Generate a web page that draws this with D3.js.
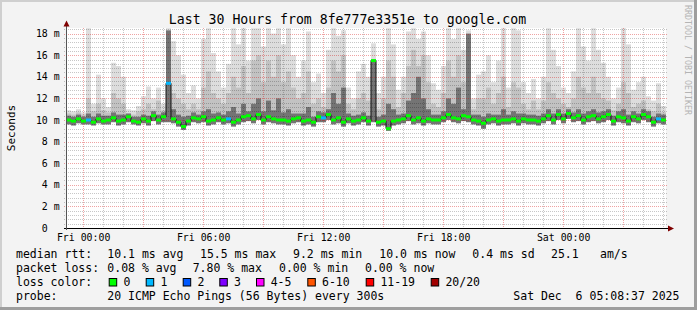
<!DOCTYPE html>
<html>
<head>
<meta charset="utf-8">
<script src="https://cdn.jsdelivr.net/npm/d3@7"></script>
<style>
  body { margin: 0; background: #f3f3f3; }
  svg { display: block; font-family: "DejaVu Sans Mono", monospace; }
  text { white-space: pre; }
</style>
</head>
<body>
<svg id="chart" width="697" height="310"></svg>
<script>
// one value per 15 minutes, starting Thu 23:08:37 (ms)
var hiMs = [
  10.9, 10.8, 11.0, 10.7, 18.5, 11.5, 14.2, 12.0, 11.2, 15.3,
  15.0, 14.0, 11.0, 10.9, 11.3, 12.2, 13.1, 12.0, 13.0, 11.5,
  18.5, 17.3, 16.0, 14.2, 12.5, 13.2, 12.0, 17.5, 18.5, 16.2,
  14.5, 13.0, 15.2, 18.5, 17.0, 18.5, 15.5, 18.5, 18.5, 16.8,
  18.5, 18.0, 18.5, 17.0, 18.5, 16.0, 14.0, 15.5, 18.2, 13.5,
  14.3, 12.5, 16.5, 18.5, 17.8, 18.3, 13.0, 12.0, 14.5, 15.2,
  14.0, 17.1, 12.5, 14.0, 18.5, 17.0, 12.8, 14.0, 18.2, 18.5,
  17.5, 18.2, 16.0, 13.4, 12.8, 15.0, 18.5, 17.5, 18.5, 16.5,
  18.3, 12.0, 14.2, 14.5, 16.0, 13.5, 15.5, 18.5, 13.0, 18.5,
  18.3, 13.5, 12.5, 13.8, 12.0, 14.0, 18.5, 16.5, 15.0, 13.0,
  12.5, 14.5, 18.5, 16.8, 15.5, 18.5, 16.5, 15.3, 14.0, 12.0,
  13.0, 18.5, 17.0, 12.8, 13.5, 14.0, 12.2, 11.8, 13.4, 11.3
];
var midMs = [
  10.6, 10.5, 10.7, 10.5, 12.0, 10.8, 11.5, 10.9, 10.7, 12.5,
  12.0, 11.5, 10.6, 10.5, 10.8, 11.0, 11.5, 11.0, 11.8, 10.9,
  13.5, 12.5, 12.0, 11.5, 11.0, 11.5, 11.0, 13.0, 14.5, 12.5,
  12.0, 11.5, 12.5, 14.0, 13.0, 15.0, 12.5, 15.5, 16.0, 13.5,
  15.5, 14.0, 16.0, 13.5, 14.5, 13.0, 12.0, 12.5, 14.5, 11.5,
  12.0, 11.2, 13.0, 15.5, 14.5, 16.0, 11.5, 11.0, 12.0, 12.5,
  11.8, 13.0, 11.0, 12.0, 15.5, 14.0, 11.2, 12.5, 15.0, 16.5,
  15.0, 16.0, 13.5, 11.5, 11.2, 12.5, 15.5, 14.0, 16.0, 13.5,
  15.0, 11.0, 12.0, 12.0, 13.0, 11.5, 12.5, 14.0, 11.2, 13.5,
  13.0, 11.5, 11.0, 11.8, 11.0, 11.8, 13.5, 12.5, 12.0, 11.5,
  11.2, 12.0, 14.0, 13.0, 12.5, 14.0, 12.5, 12.0, 11.8, 10.9,
  11.5, 13.5, 12.5, 11.2, 11.5, 11.8, 11.0, 10.8, 11.5, 10.7
];
var darkMs = [
  10.4, 10.3, 10.5, 10.3, 10.6, 10.3, 10.6, 10.4, 10.4, 10.7,
  10.5, 10.5, 10.6, 10.3, 10.3, 10.5, 10.4, 10.8, 10.5, 10.7,
  18.3, 11.0, 10.5, 10.3, 10.4, 10.7, 10.5, 10.8, 11.0, 10.6,
  10.7, 10.5, 10.8, 11.2, 10.6, 11.5, 10.8, 11.5, 12.0, 10.8,
  11.8, 10.9, 12.0, 10.7, 11.0, 10.6, 10.6, 10.6, 11.2, 10.3,
  10.8, 10.7, 11.0, 12.5, 11.5, 13.0, 10.6, 10.4, 10.5, 10.7,
  10.4, 15.5, 10.3, 10.5, 11.5, 11.0, 10.5, 10.6, 11.8, 12.5,
  14.0, 12.0, 11.0, 10.5, 10.5, 10.8, 12.0, 11.5, 13.0, 11.0,
  18.0, 10.5, 10.5, 10.3, 10.6, 10.5, 10.5, 11.0, 10.5, 10.8,
  10.6, 10.6, 10.5, 10.5, 10.4, 10.6, 11.0, 10.6, 11.0, 10.6,
  11.0, 10.7, 11.0, 10.6, 10.8, 11.0, 10.7, 10.8, 11.0, 10.4,
  10.8, 11.0, 10.5, 10.8, 10.6, 11.0, 10.8, 10.3, 10.6, 10.5
];
var loMs = [
  9.6, 9.5, 9.7, 9.6, 9.6, 9.5, 9.7, 9.6, 9.6, 9.8,
  9.5, 9.6, 9.8, 9.6, 9.5, 9.7, 9.5, 9.9, 9.6, 9.8,
  9.8, 9.7, 9.4, 9.1, 9.5, 9.8, 9.7, 9.8, 9.5, 9.6,
  9.8, 9.6, 9.7, 9.4, 9.6, 9.8, 9.9, 9.7, 10.0, 9.6,
  9.8, 9.7, 9.6, 9.6, 9.5, 9.7, 9.8, 9.5, 9.6, 9.4,
  9.8, 9.8, 10.0, 9.6, 9.7, 9.4, 9.7, 9.5, 9.6, 9.8,
  9.5, 9.8, 9.4, 9.5, 9.0, 9.5, 9.6, 9.7, 9.9, 9.6,
  9.7, 9.5, 9.7, 9.6, 9.6, 9.8, 10.0, 9.8, 9.7, 9.9,
  9.8, 9.6, 9.5, 9.2, 9.6, 9.7, 9.5, 9.6, 9.6, 9.7,
  9.5, 9.7, 9.6, 9.6, 9.5, 9.7, 9.9, 9.6, 10.0, 9.7,
  10.1, 9.8, 9.9, 9.6, 9.8, 9.9, 9.7, 9.8, 10.0, 9.5,
  9.8, 9.7, 9.5, 9.8, 9.7, 10.0, 9.8, 9.4, 9.7, 9.6
];
var medianMs = [
  10.0, 9.9, 10.1, 9.9, 10.0, 9.8, 10.1, 9.9, 10.0, 10.2,
  9.9, 10.0, 10.3, 9.9, 9.8, 10.1, 9.9, 10.4, 10.0, 10.3,
  13.4, 10.1, 9.8, 9.4, 9.9, 10.2, 10.1, 10.3, 9.9, 10.0,
  10.2, 10.0, 10.1, 9.8, 10.0, 10.3, 10.4, 10.1, 10.5, 10.0,
  10.3, 10.1, 10.0, 10.0, 9.9, 10.1, 10.2, 9.9, 10.0, 9.8,
  10.3, 10.2, 10.5, 10.0, 10.2, 9.8, 10.1, 9.9, 10.0, 10.2,
  9.9, 15.5, 9.8, 9.9, 9.2, 9.9, 10.0, 10.1, 10.4, 10.0,
  10.2, 9.9, 10.1, 10.0, 10.0, 10.2, 10.5, 10.2, 10.1, 10.4,
  10.3, 10.0, 9.9, 9.7, 10.0, 10.1, 9.9, 10.0, 10.0, 10.1,
  9.9, 10.1, 10.0, 10.0, 9.9, 10.1, 10.4, 10.0, 10.5, 10.1,
  10.6, 10.2, 10.4, 10.0, 10.3, 10.4, 10.1, 10.3, 10.5, 9.9,
  10.3, 10.2, 9.9, 10.3, 10.1, 10.5, 10.3, 9.8, 10.1, 10.0
];
// steps with lost pings (index, lost count)
var lossIdx = [4, 20, 32, 51, 118];
var lossCount = [1, 1, 1, 1, 1];

var yTicks = [0, 2, 4, 6, 8, 10, 12, 14, 16, 18];
var lossLabels = ['0', '1', '2', '3', '4-5', '6-10', '11-19', '20/20'];
var lossColors = ['#00ff00', '#00b8ff', '#0059ff', '#7e00ff', '#ff00ff', '#ff5500', '#ff0000', '#a10000'];
var rttStats = ['10.1 ms avg', '15.5 ms max', '9.2 ms min', '10.0 ms now', '0.4 ms sd', '25.1', 'am/s'];
var lossStats = ['0.08 % avg', '7.80 % max', '0.00 % min', '0.00 % now'];

var W = 697, H = 310;
var plotLeft = 66, plotTop = 28, pw = 600, ph = 200;
var tStart = Date.UTC(2025, 11, 4, 23, 8, 37);
var tEnd = Date.UTC(2025, 11, 6, 5, 8, 37);
var stepMs = 15 * 60 * 1000;
function tAt(i) { return new Date(tStart + i * stepMs); }

var xs = d3.scaleUtc().domain([tStart, tEnd]).range([plotLeft, plotLeft + pw]);
var ys = d3.scaleLinear().domain([0, ph / 10.8]).range([plotTop + ph, plotTop]);

var svg = d3.select('#chart');

// background and bevel
svg.append('rect').attr('width', W).attr('height', H).attr('fill', '#f3f3f3');
svg.append('path').attr('d', 'M1,' + H + ' V1 H' + W)
   .attr('fill', 'none').attr('stroke', '#cfcfcf').attr('stroke-width', 2);
svg.append('path').attr('d', 'M0,' + (H - 1.5) + ' H' + (W - 1.5) + ' V0')
   .attr('fill', 'none').attr('stroke', '#9e9e9e').attr('stroke-width', 3);

svg.append('rect').attr('x', plotLeft).attr('y', plotTop).attr('width', pw).attr('height', ph).attr('fill', '#fff');

// smoke
var smoke = [
  {vals: hiMs, fill: '#dddddd'},
  {vals: midMs, fill: '#c2c2c2'},
  {vals: darkMs, fill: '#747474'}
];
smoke.forEach(function(layer) {
  svg.append('g').selectAll('rect')
     .data(layer.vals)
     .enter()
     .append('rect')
     .attr('x', function(d, i) { return xs(tAt(i)); })
     .attr('width', function(d, i) { return xs(tAt(i + 1)) - xs(tAt(i)); })
     .attr('y', function(d) { return ys(d); })
     .attr('height', function(d, i) { return ys(loMs[i]) - ys(d); })
     .attr('fill', layer.fill);
});

// grid
var minorCol = 'rgba(0,0,0,0.22)', majorCol = 'rgba(210,0,0,0.36)';
var grid = svg.append('g').attr('stroke-dasharray', '1,1').attr('stroke-width', 1);
var minorY = d3.range(0, ys.domain()[1], 0.4).filter(function(v) {
  return Math.abs(v / 2 - Math.round(v / 2)) > 1e-6;
});
grid.selectAll('.hmin').data(minorY).enter().append('line')
    .attr('x1', plotLeft - 2).attr('x2', plotLeft + pw + 2)
    .attr('y1', function(d) { return Math.round(ys(d)) + 0.5; })
    .attr('y2', function(d) { return Math.round(ys(d)) + 0.5; })
    .attr('stroke', minorCol);
var hours = d3.utcHour.range(new Date(tStart), new Date(tEnd));
grid.selectAll('.vgrid').data(hours).enter().append('line')
    .attr('x1', function(d) { return Math.round(xs(d)) + 0.5; })
    .attr('x2', function(d) { return Math.round(xs(d)) + 0.5; })
    .attr('y1', plotTop).attr('y2', plotTop + ph + 2)
    .attr('stroke', function(d) { return d.getUTCHours() % 3 === 0 ? majorCol : minorCol; });
grid.selectAll('.hmaj').data(yTicks.slice(1)).enter().append('line')
    .attr('x1', plotLeft - 2).attr('x2', plotLeft + pw + 2)
    .attr('y1', function(d) { return Math.round(ys(d)) + 0.5; })
    .attr('y2', function(d) { return Math.round(ys(d)) + 0.5; })
    .attr('stroke', majorCol);

// median line, coloured by loss
var medPts = medianMs.map(function(v, i) { return [i, v]; });
medPts.push([medianMs.length, medianMs[medianMs.length - 1]]);
svg.append('path')
   .attr('d', d3.line()
      .x(function(d) { return xs(tAt(d[0])); })
      .y(function(d) { return ys(d[1]); })
      .curve(d3.curveStepAfter)(medPts))
   .attr('fill', 'none').attr('stroke', '#111').attr('stroke-width', 1);
svg.append('g').selectAll('line')
   .data(medianMs)
   .enter()
   .append('line')
   .attr('x1', function(d, i) { return xs(tAt(i)); })
   .attr('x2', function(d, i) { return xs(tAt(i + 1)); })
   .attr('y1', function(d) { return ys(d); })
   .attr('y2', function(d) { return ys(d); })
   .attr('stroke-width', 3)
   .attr('stroke', function(d, i) {
     var k = lossIdx.indexOf(i);
     return k < 0 ? lossColors[0] : lossColors[lossCount[k]];
   });

// axes
var xAxis = svg.append('g')
   .attr('transform', 'translate(0,' + (plotTop + ph) + ')')
   .call(d3.axisBottom(xs).ticks(d3.utcHour.every(6)).tickFormat(d3.utcFormat('%a %H:%M')).tickSize(0));
xAxis.select('.domain').remove();
xAxis.attr('font-family', null).attr('font-size', '9.9px');
xAxis.selectAll('text').attr('y', 13).attr('dy', null).attr('fill', '#000');

var yAxis = svg.append('g')
   .attr('transform', 'translate(' + plotLeft + ',0)')
   .call(d3.axisLeft(ys).tickValues(yTicks).tickFormat(function(v) { return v ? v + ' m' : '0'; }).tickSize(0).tickPadding(6.3));
yAxis.select('.domain').remove();
yAxis.attr('font-family', null).attr('font-size', '9.9px');
yAxis.selectAll('text').attr('fill', '#000')
   .attr('x', function(d) { return d ? -6.3 : -18.2; });

svg.append('line').attr('x1', plotLeft - 2).attr('x2', plotLeft + pw + 3)
   .attr('y1', plotTop + ph + 0.5).attr('y2', plotTop + ph + 0.5).attr('stroke', '#000');
svg.append('line').attr('x1', plotLeft + 0.5).attr('x2', plotLeft + 0.5)
   .attr('y1', plotTop + ph + 2).attr('y2', plotTop - 2).attr('stroke', '#555');
svg.append('path').attr('d', 'M' + (plotLeft + pw + 2) + ',' + (plotTop + ph - 2.5) + ' L' + (plotLeft + pw + 8) + ',' + (plotTop + ph + 0.5) + ' L' + (plotLeft + pw + 2) + ',' + (plotTop + ph + 3.5) + 'Z')
   .attr('fill', '#7f0000');
svg.append('path').attr('d', 'M' + (plotLeft - 2.5) + ',' + (plotTop - 1.5) + ' L' + (plotLeft + 0.5) + ',' + (plotTop - 7.5) + ' L' + (plotLeft + 3.5) + ',' + (plotTop - 1.5) + 'Z')
   .attr('fill', '#7f0000');

// titles
svg.append('text').attr('x', 347.5).attr('y', 23.5).attr('text-anchor', 'middle')
   .attr('font-size', '13.2px').attr('fill', '#000')
   .text('Last 30 Hours from 8fe777e3351e to google.com');
svg.append('text').attr('transform', 'translate(15,128) rotate(-90)').attr('text-anchor', 'middle')
   .attr('font-size', '11px').attr('fill', '#000').text('Seconds');
svg.append('text').attr('transform', 'translate(685,5) rotate(90)')
   .attr('font-size', '8.3px').attr('fill', '#b4b4b4').text('RRDTOOL / TOBI OETIKER');

// legend
var leg = svg.append('g').attr('font-size', '11.5px').attr('fill', '#000');
function put(str, x, y) { leg.append('text').attr('x', x).attr('y', y).text(str); }

put('median rtt:', 16, 258);
[107.3, 200, 293, 379.3, 472.3, 551, 600].forEach(function(x, i) { put(rttStats[i], x, 258); });
put('packet loss:', 16, 272);
[107.3, 192.7, 279, 365].forEach(function(x, i) { put(lossStats[i], x, 272); });
put('loss color:', 16, 286);
[108.7, 145.7, 182.7, 219.3, 256, 307.3, 365.7, 430.7].forEach(function(x, i) {
  leg.append('rect').attr('x', x + 0.5).attr('y', 278.5).attr('width', 7.5).attr('height', 7.5)
     .attr('fill', lossColors[i]).attr('stroke', '#000').attr('stroke-width', 1);
  put(lossLabels[i], x + 14.7, 286);
});
put('probe:', 16, 300);
put('20 ICMP Echo Pings (56 Bytes) every 300s', 107.3, 300);
put('Sat Dec  6 05:08:37 2025', 513.3, 300);
</script>
</body>
</html>
